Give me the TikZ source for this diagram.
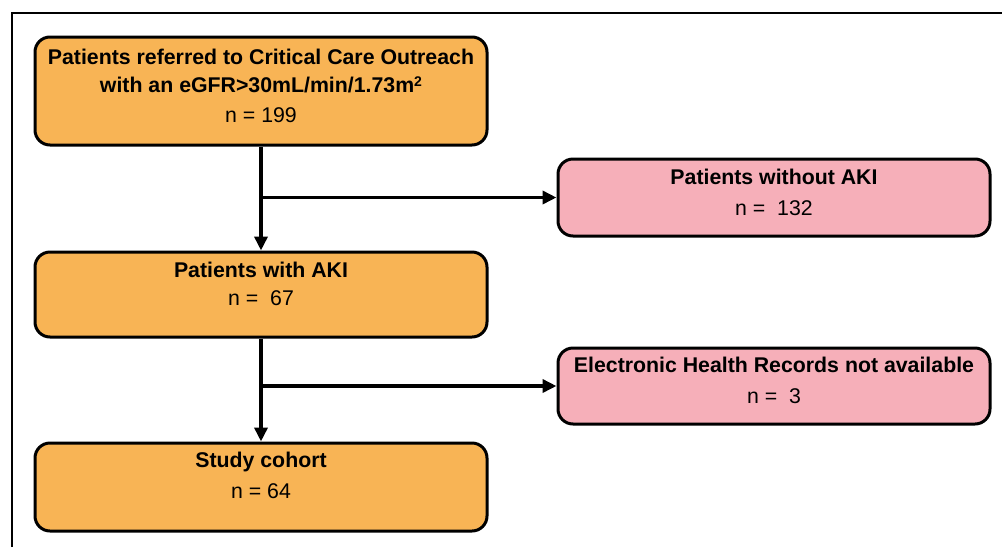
\documentclass[tikz,border=0pt]{standalone}
\usepackage{fontspec}
\setmainfont{Liberation Sans}
\usetikzlibrary{arrows.meta}
\definecolor{boxorange}{HTML}{F8B455}
\definecolor{boxpink}{HTML}{F6AFB9}
\tikzset{
  obox/.style={draw=black, line width=3pt, rounded corners=15pt, fill=boxorange, minimum width=452pt, inner sep=0pt},
  pbox/.style={draw=black, line width=3pt, rounded corners=15pt, fill=boxpink, minimum width=432pt, inner sep=0pt},
  title/.style={font=\fontsize{21.3}{25}\selectfont\bfseries, inner sep=0pt, anchor=center},
  count/.style={font=\fontsize{21.3}{25}\selectfont, inner sep=0pt, anchor=center},
  conn/.style={line width=3.5pt, black},
  arr/.style={conn, -{Triangle[length=14pt,width=13pt]}},
  frame/.style={line width=2.2pt, black}
}
\begin{document}
\begin{tikzpicture}[x=1pt,y=-1pt]
\useasboundingbox (0,0) rectangle (1002,547);
\fill[white] (0,0) rectangle (1002,547);
\coordinate (fa) at (12,547);
\coordinate (fb) at (12,13);
\coordinate (fc) at (1002,13);
\draw[frame] (fa) -- (fb) -- (fc);

\node[obox, minimum height=108pt] (b1) at (261,91) {};
\node[obox, minimum height=85pt] (b2) at (261,294.5) {};
\node[obox, minimum height=88pt] (b3) at (261,487) {};
\node[pbox, minimum height=77pt] (p1) at (774,197.5) {};
\node[pbox, minimum height=76pt] (p2) at (774,386) {};

\node[title] (t1a) at (261,57) {Patients referred to Critical Care Outreach};
\node[title] (t1b) at (261,85) {with an eGFR>30mL/min/1.73m\raisebox{0.55ex}{\fontsize{14}{16}\selectfont 2}};
\node[count] (n1) at (261,115) {n = 199};
\node[title] (t2) at (261,270) {Patients with AKI};
\node[count] (n2) at (261,298) {n =\ \ 67};
\node[title] (t3) at (261,462) {Study cohort};
\node[count] (n3) at (261,491) {n = 64};
\node[title] (tp1) at (774,177) {Patients without AKI};
\node[count] (np1) at (774,208) {n =\ \ 132};
\node[title] (tp2) at (774,365) {Electronic Health Records not available};
\node[count] (np2) at (774,396) {n =\ \ 3};

\coordinate (j1) at (261,197.5);
\coordinate (j2) at (261,386);
\draw[conn] (b1.south) -- (j1);
\draw[arr] (j1) -- (b2.north);
\draw[arr] (j1) -- (p1.west);
\draw[conn] (b2.south) -- (j2);
\draw[arr] (j2) -- (b3.north);
\draw[arr] (j2) -- (p2.west);
\end{tikzpicture}
\end{document}
